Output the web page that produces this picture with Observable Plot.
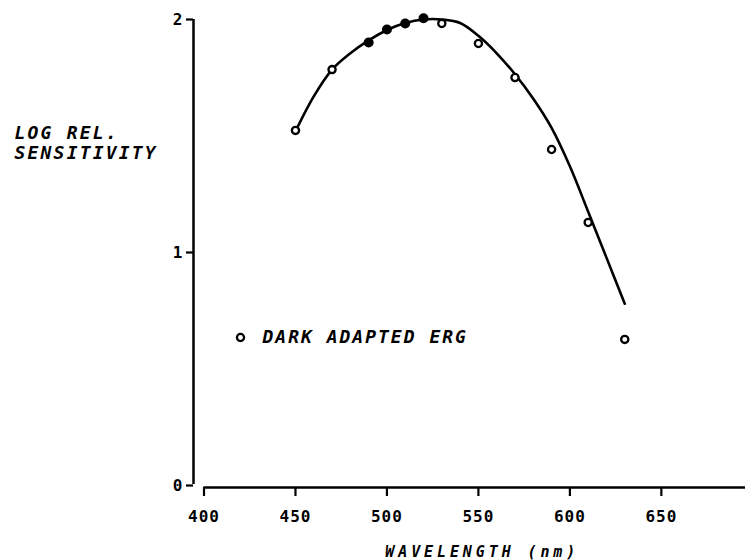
<!DOCTYPE html>
<html><head><meta charset="utf-8">
<script src="https://cdn.jsdelivr.net/npm/d3@7"></script>
<script src="https://cdn.jsdelivr.net/npm/@observablehq/plot@0.6"></script>
<style>body{margin:0;background:#fff} #chart svg{display:block;background:#fff}</style>
</head><body><div id="chart"></div>
<script>
// Measured points (dark adapted ERG)
const wavelengths = [450, 470, 490, 500, 510, 520, 530, 550, 570, 590, 610, 630];
const sensitivity = [1.524, 1.785, 1.901, 1.957, 1.983, 2.005, 1.983, 1.897, 1.751, 1.442, 1.129, 0.627];
const filled = [false, false, true, true, true, true, false, false, false, false, false, false];
// Fitted curve
const curveWavelengths = [450, 460, 470, 480, 490, 500, 510, 520, 530, 540, 550, 560, 570, 580, 590, 600, 610, 620, 630];
const curveValues = [1.52, 1.67, 1.785, 1.855, 1.91, 1.955, 1.985, 2.0, 2.0, 1.985, 1.93, 1.855, 1.765, 1.66, 1.535, 1.37, 1.175, 0.978, 0.78];
// Axes and labels
const xTicks = [400, 450, 500, 550, 600, 650];
const yTicks = [0, 1, 2];
const xDomain = [400, 696];
const yDomain = [0, 2];
const yLabel = "LOG REL.\nSENSITIVITY";
const xLabel = "WAVELENGTH (nm)";
const legendLabel = "DARK ADAPTED ERG";

const points = wavelengths.map((w, i) => ({w, s: sensitivity[i], f: filled[i]}));
const curve = curveWavelengths.map((w, i) => ({w, s: curveValues[i]}));

const mono = "'DejaVu Sans Mono', monospace";

const chart = Plot.plot({
  width: 745,
  height: 560,
  marginLeft: 203.5,
  marginRight: 0,
  marginTop: 19,
  marginBottom: 75,
  style: {fontFamily: mono, fontSize: "16px", fontWeight: "bold", color: "#000", background: "#fff"},
  x: {domain: xDomain, axis: null},
  y: {domain: yDomain, axis: null},
  marks: [
    // y axis line (offset left of the x origin)
    Plot.ruleX([xTicks[0]], {y1: yTicks[0], y2: yTicks[2], dx: -10.5, strokeWidth: 2.5, insetTop: -1}),
    Plot.axisY({anchor: "left", ticks: yTicks, tickSize: 7, tickPadding: 4, dx: -10.5, strokeWidth: 2.2,
      tickFormat: d => String(d), fontSize: 16, fontWeight: "bold", fontFamily: mono, label: null}),
    // x axis line
    Plot.ruleY([yTicks[0]], {dy: 2, strokeWidth: 2.5}),
    Plot.axisX({anchor: "bottom", ticks: xTicks, tickSize: 9, tickPadding: 14, dy: 2, strokeWidth: 2.2,
      tickFormat: d => String(d), fontSize: 16, fontWeight: "bold", fontFamily: mono, label: null}),
    // fitted curve
    Plot.line(curve, {x: "w", y: "s", curve: "catmull-rom", strokeWidth: 2.6, stroke: "#000"}),
    // data points
    Plot.dot(points.filter(d => !d.f), {x: "w", y: "s", r: 3.6, stroke: "#000", strokeWidth: 2.3, fill: "#fff"}),
    Plot.dot(points.filter(d => d.f), {x: "w", y: "s", r: 5, fill: "#000", stroke: "none"}),
    // legend
    Plot.dot([legendLabel], {frameAnchor: "top-left", dx: 36.5, dy: 318, r: 3.6, stroke: "#000", strokeWidth: 2.3, fill: "#fff"}),
    Plot.text([legendLabel], {frameAnchor: "top-left", dx: 58.5, dy: 318, textAnchor: "start", lineAnchor: "middle",
      fontSize: 18, fontStyle: "italic", fontWeight: "bold", fontFamily: mono, fill: "#000"}),
    // y axis title
    Plot.text([yLabel], {frameAnchor: "top-left", dx: -189.5, dy: 123, textAnchor: "start", lineAnchor: "middle",
      lineHeight: 1.15, fontSize: 18, fontStyle: "italic", fontWeight: "bold", fontFamily: mono, fill: "#000"}),
    // x axis title
    Plot.text([xLabel], {frameAnchor: "bottom", dx: 7.5, dy: 67, textAnchor: "middle", lineAnchor: "middle",
      fontSize: 15, fontStyle: "italic", fontWeight: "bold", fontFamily: mono, fill: "#000"})
  ]
});

// letter spacing (plotter-style lettering)
const svg = d3.select(chart);
svg.selectAll("g[aria-label='x-axis tick label'] text").style("letter-spacing", "1px");
svg.selectAll("text").each(function() {
  const t = this.textContent;
  if (t === legendLabel) d3.select(this).style("letter-spacing", "2px");
  else if (t === xLabel) d3.select(this).style("letter-spacing", "3.9px");
  else if (t.startsWith("LOG REL.")) d3.select(this).style("letter-spacing", "2.2px");
});

document.getElementById("chart").appendChild(chart);
</script>
</body></html>
